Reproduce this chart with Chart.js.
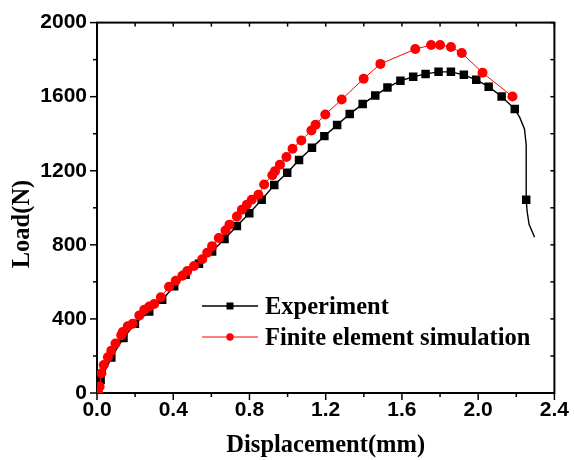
<!DOCTYPE html>
<html><head><meta charset="utf-8">
<script src="https://cdn.jsdelivr.net/npm/chart.js@4.4.0/dist/chart.umd.min.js"></script>
<style>html,body{margin:0;padding:0;background:#fff}canvas{display:block}</style>
</head><body>
<canvas id="c" width="574" height="460"></canvas>
<script>
// ---- data ----
const xTickValues = [0, 0.4, 0.8, 1.2, 1.6, 2.0, 2.4];
const yTickValues = [0, 400, 800, 1200, 1600, 2000];
const seriesNames = ['Experiment', 'Finite element simulation'];
const xTitle = 'Displacement(mm)';
const yTitle = 'Load(N)';

const expDisp = [0,0.019,0.075,0.139,0.199,0.274,0.342,0.405,0.465,0.535,0.604,0.669,0.734,0.799,0.864,0.930,0.998,1.060,1.128,1.193,1.260,1.326,1.394,1.460,1.524,1.592,1.659,1.724,1.792,1.857,1.925,1.990,2.055,2.123,2.192,2.218,2.243,2.252,2.252,2.252,2.257,2.267,2.296];
const expLoad = [0,71,191,297,374,440,504,576,638,698,764,832,902,971,1043,1123,1189,1258,1324,1387,1447,1507,1560,1607,1649,1686,1707,1723,1734,1734,1718,1691,1654,1601,1533,1488,1426,1339,1071,1043,980,911,841];
const expLineOnly = [35,36,37,38,40,41,42]; // curve points drawn without a marker

const feDisp = [0.005,0.014,0.023,0.035,0.057,0.075,0.097,0.127,0.135,0.161,0.187,0.222,0.248,0.274,0.300,0.335,0.378,0.413,0.448,0.474,0.509,0.552,0.578,0.604,0.639,0.674,0.695,0.734,0.760,0.786,0.812,0.847,0.877,0.920,0.934,0.960,0.994,1.026,1.072,1.125,1.147,1.198,1.284,1.399,1.487,1.670,1.753,1.800,1.857,1.914,2.023,2.180];
const feLoad = [5,35,107,151,193,228,267,312,329,360,374,419,449,467,481,517,574,606,633,659,686,722,757,793,837,877,909,953,989,1016,1043,1070,1126,1176,1198,1233,1274,1319,1364,1417,1449,1504,1585,1697,1777,1857,1879,1879,1868,1836,1729,1601];

const expPts = expDisp.map((x,i)=>({x, y: expLoad[i]}));
const expMarkPts = expPts.filter((p,i)=>!expLineOnly.includes(i));
const fePts = feDisp.map((x,i)=>({x, y: feLoad[i]}));

const tickFont = {family:'"Liberation Sans", Arial, sans-serif', size:21, weight:'bold'};
const titleFont = {family:'"Liberation Serif", "Times New Roman", serif', size:24.5, weight:'bold'};
const serifCss = '"Liberation Serif", "Times New Roman", serif';

const framePlugin = {
  id:'frame',
  beforeDatasetsDraw(chart){
    const {ctx, chartArea:a, scales:{x, y}} = chart;
    ctx.save();
    ctx.strokeStyle = '#000';
    ctx.lineWidth = 1.5;
    const seg = (x1,y1,x2,y2)=>{ctx.beginPath();ctx.moveTo(x1,y1);ctx.lineTo(x2,y2);ctx.stroke();};
    x.ticks.forEach((t,i)=>{
      const p = x.getPixelForTick(i);
      const major = xTickValues.some(v=>Math.abs(v-t.value)<1e-6);
      seg(p, a.bottom, p, a.bottom + (major?7:4));
      seg(p, a.top, p, a.top + 4);
    });
    y.ticks.forEach((t,i)=>{
      const p = y.getPixelForTick(i);
      const major = yTickValues.includes(t.value);
      seg(a.left, p, a.left - (major?7:4), p);
      seg(a.right, p, a.right - 4, p);
    });
    ctx.lineWidth = 2;
    ctx.strokeRect(a.left, a.top, a.right-a.left, a.bottom-a.top);
    ctx.restore();
  }
};

const textPlugin = {
  id:'customText',
  afterDraw(chart){
    const {ctx} = chart;
    ctx.save();
    // y axis title (placed slightly below the plot middle, as in the original)
    ctx.translate(23, 224);
    ctx.rotate(-Math.PI/2);
    ctx.fillStyle = '#000';
    ctx.font = 'bold 24.5px ' + serifCss;
    ctx.textAlign = 'center';
    ctx.textBaseline = 'middle';
    ctx.fillText(yTitle, 0, 0);
    ctx.restore();

    ctx.save();
    const rows = [
      {name: seriesNames[0], color:'#000', y:306, shape:'rect', lw:1.3},
      {name: seriesNames[1], color:'#ff0000', y:337, shape:'circle', lw:1}
    ];
    rows.forEach(r=>{
      ctx.strokeStyle = r.color; ctx.fillStyle = r.color; ctx.lineWidth = r.lw;
      ctx.beginPath(); ctx.moveTo(202, r.y); ctx.lineTo(258, r.y); ctx.stroke();
      if (r.shape==='rect') ctx.fillRect(226.5, r.y-3.5, 7, 7);
      else { ctx.beginPath(); ctx.arc(230, r.y, 3.7, 0, Math.PI*2); ctx.fill(); }
      ctx.fillStyle = '#000';
      ctx.font = 'bold 24.5px ' + serifCss;
      ctx.textBaseline = 'middle';
      ctx.fillText(r.name, 265, r.y + 2);
    });
    ctx.restore();
  }
};

new Chart(document.getElementById('c'), {
  type:'line',
  data:{
    datasets:[
      {label:seriesNames[1], data:fePts, borderColor:'#ff0000', backgroundColor:'#ff0000', borderWidth:1,
       pointStyle:'circle', pointRadius:5, pointBorderWidth:0, tension:0, order:0},
      {label:seriesNames[0]+' markers', data:expMarkPts, showLine:false, borderColor:'#000', backgroundColor:'#000',
       pointStyle:'rect', pointRadius:6, pointBorderWidth:0, order:1},
      {label:seriesNames[0], data:expPts, borderColor:'#000', backgroundColor:'#000', borderWidth:1.4,
       pointRadius:0, tension:0, order:2}
    ]
  },
  options:{
    responsive:false, animation:false,
    layout:{padding:{top:19, right:16, left:0, bottom:0}},
    plugins:{legend:{display:false}, tooltip:{enabled:false}},
    scales:{
      x:{type:'linear', min:0, max:2.4, bounds:'ticks',
        afterFit(s){ s.height = 67; },
        grid:{display:false, drawTicks:false},
        border:{display:false},
        ticks:{stepSize:0.2, autoSkip:false, maxRotation:0, padding:5, color:'#000', font:tickFont,
          callback:v=> xTickValues.some(t=>Math.abs(t-v)<1e-6) ? v.toFixed(1) : ''},
        title:{display:true, text:xTitle, color:'#000', font:titleFont, padding:{top:0,bottom:0}}
      },
      y:{type:'linear', min:0, max:2000,
        afterFit(s){ s.width = 97; },
        grid:{display:false, drawTicks:false},
        border:{display:false},
        ticks:{stepSize:200, autoSkip:false, padding:10, color:'#000', font:tickFont,
          callback:v=> yTickValues.includes(v) ? String(v) : ''},
        title:{display:false}
      }
    }
  },
  plugins:[framePlugin, textPlugin]
});
</script>
</body></html>
